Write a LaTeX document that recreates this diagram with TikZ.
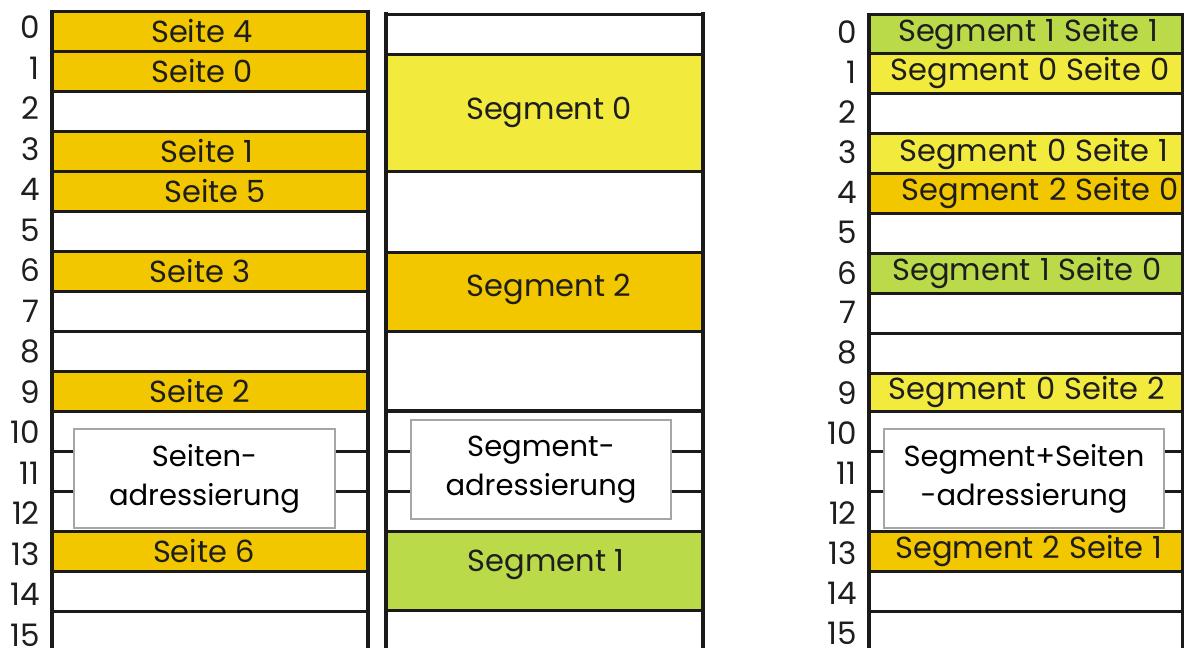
\documentclass[tikz,border=0pt]{standalone}
\usepackage{fontspec}
\setmainfont{Poppins}
\definecolor{pgorange}{RGB}{242,199,0}
\definecolor{pgyellow}{RGB}{242,235,62}
\definecolor{pggreen}{RGB}{186,218,74}
\definecolor{pgline}{RGB}{28,26,24}
\definecolor{pgtext}{RGB}{30,30,30}
\newcommand{\widefont}{\fontsize{30.5}{34}\selectfont\spaceskip=0.3em\relax}
\tikzset{
  x=1pt,y=-1pt,
  rowline/.style={draw=pgline,line width=3pt},
  colborder/.style={draw=pgline,line width=3.5pt},
  celltext/.style={inner sep=0pt,text=pgtext,font=\fontsize{30.5}{34}\selectfont},
  widetext/.style={inner sep=0pt,text=pgtext,font=\widefont},
  numlbl/.style={inner sep=0pt,anchor=east,text=pgtext,font=\fontsize{31}{34}\selectfont},
  addrbox/.style={draw=gray!70,line width=1.2pt,fill=white,inner sep=0pt,align=center,
    text=black,font=\fontsize{29}{39}\selectfont},
}
\begin{document}
\begin{tikzpicture}
\useasboundingbox[fill=white] (0,0) rectangle (1184,648);
\clip (0,0) rectangle (1184,648);
% ---------------- left column (page addressing)
\foreach \r in {0,1,3,4,6,9,13} {
  \fill[pgorange] (52,11+40*\r) rectangle (368,51+40*\r);
}
\foreach \r in {0,...,10,13,14,15,16} {
  \draw[rowline] (52,11+40*\r) -- (368,11+40*\r);
}
\node[celltext] (l0) at (202,31) {Seite 4};
\node[celltext] (l1) at (202,71) {Seite 0};
\node[celltext] (l3) at (207,151) {Seite 1};
\node[celltext] (l4) at (215,191) {Seite 5};
\node[celltext] (l6) at (200,271) {Seite 3};
\node[celltext] (l9) at (200,391) {Seite 2};
\node[celltext] (l13) at (204,551) {Seite 6};
\node[addrbox,minimum width=261pt,minimum height=99pt] (lbox) at (204.5,478.5) {Seiten-\\adressierung};
\coordinate (lcolL) at (52,451);
\coordinate (lcolR) at (368,451);
\draw[rowline] (lcolL) -- (lbox.west |- lcolL);
\draw[rowline] (lcolR) -- (lbox.east |- lcolR);
\draw[rowline] (lcolL |- 0,491) -- (lbox.west |- 0,491);
\draw[rowline] (lcolR |- 0,491) -- (lbox.east |- 0,491);
\draw[colborder] (52,9.5) -- (52,660);
\draw[colborder] (368,9.5) -- (368,660);
\foreach \r in {0,...,15} {
  \node[numlbl] (ln\r) at (40,27.5+40.5*\r) {\r};
}
% ---------------- middle column (segment addressing)
\fill[pgyellow] (386,54) rectangle (703,171);
\fill[pgorange] (386,252) rectangle (703,331);
\fill[pggreen] (386,531) rectangle (703,610);
\foreach \yy in {14,54,171,252,331,531,610} {
  \draw[rowline] (386,\yy) -- (703,\yy);
}
\draw[rowline,line width=4.5pt] (386,411) -- (703,411);
\node[celltext] (m0) at (549,112) {Segment 0};
\node[celltext] (m2) at (549,289) {Segment 2};
\node[celltext] (m1) at (546,565) {Segment 1};
\node[addrbox,minimum width=260pt,minimum height=99pt] (mbox) at (541,469.5) {Segment-\\adressierung};
\coordinate (mcolL) at (386,451);
\coordinate (mcolR) at (703,451);
\draw[rowline] (mcolL) -- (mbox.west |- mcolL);
\draw[rowline] (mcolR) -- (mbox.east |- mcolR);
\draw[rowline] (mcolL |- 0,491) -- (mbox.west |- 0,491);
\draw[rowline] (mcolR |- 0,491) -- (mbox.east |- 0,491);
\draw[colborder,line width=4pt] (386,12) -- (386,660);
\draw[colborder,line width=4pt] (703,12) -- (703,660);
% ---------------- right column (segment + page addressing)
\fill[pggreen] (869,14) rectangle (1183,53);
\fill[pgyellow] (869,53) rectangle (1183,93);
\fill[pgyellow] (869,133) rectangle (1183,173);
\fill[pgorange] (869,173) rectangle (1183,213);
\fill[pggreen] (869,253) rectangle (1183,293);
\fill[pgyellow] (869,373) rectangle (1183,411);
\fill[pgorange] (869,531) rectangle (1183,571);
\foreach \yy in {14,53,93,133,173,213,253,293,333,373,411,531,571,611} {
  \draw[rowline] (869,\yy) -- (1183,\yy);
}
\node[widetext] (r0) at (1028,34) {Segment 1 Seite 1};
\node[widetext] (r1) at (1030,73) {Segment 0 Seite 0};
\node[widetext] (r3) at (1034,154) {Segment 0 Seite 1};
\node[widetext] (r4) at (1040,193) {Segment 2 Seite 0};
\node[widetext] (r6) at (1027,273) {Segment 1 Seite 0};
\node[widetext] (r9) at (1027,392) {Segment 0 Seite 2};
\node[widetext] (r13) at (1029,551) {Segment 2 Seite 1};
\node[addrbox,minimum width=280pt,minimum height=99pt] (rbox) at (1024,478.5) {Segment+Seiten\\-adressierung};
\coordinate (rcolL) at (869,451);
\coordinate (rcolR) at (1183,451);
\draw[rowline] (rcolL) -- (rbox.west |- rcolL);
\draw[rowline] (rcolR) -- (rbox.east |- rcolR);
\draw[rowline] (rcolL |- 0,491) -- (rbox.west |- 0,491);
\draw[rowline] (rcolR |- 0,491) -- (rbox.east |- 0,491);
\draw[colborder] (869,12.5) -- (869,660);
\draw[colborder] (1183,12.5) -- (1183,660);
\foreach \r in {0,...,15} {
  \node[numlbl] (rn\r) at (857,32+40.1*\r) {\r};
}
\end{tikzpicture}
\end{document}
